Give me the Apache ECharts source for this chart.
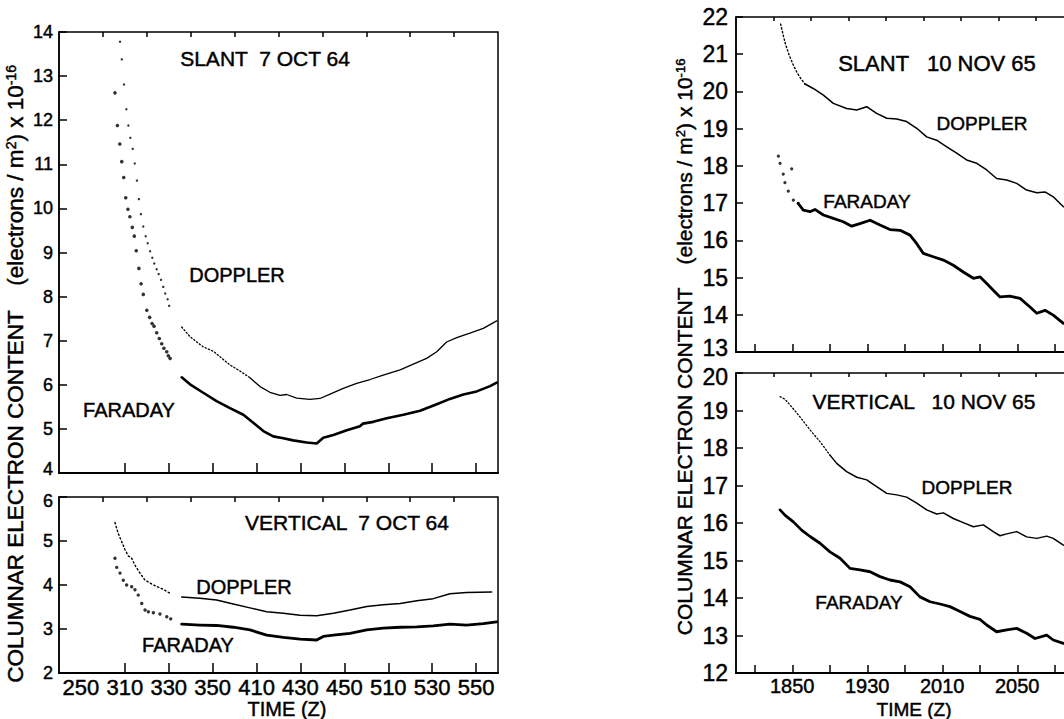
<!DOCTYPE html>
<html>
<head>
<meta charset="utf-8">
<title>Columnar electron content</title>
<script src="https://cdn.jsdelivr.net/npm/echarts@6/dist/echarts.min.js"></script>
<style>
  html, body { margin: 0; padding: 0; background: #fff; }
  #chart { width: 1064px; height: 719px; }
</style>
</head>
<body>
<div id="chart"></div>
<script>
// Time values are minutes after 0000 Z; values are electrons/m^2 x 10^-16.

// ---- 7 OCT 64, slant ----
const octSlantDopplerDots = [[187.8,13.78],[188.6,13.38],[189.6,12.81],[190.7,12.25],[191.6,11.88],[192.5,11.60],[193.6,11.35],[194.5,11.02],[195.5,10.63],[196.4,10.21],[197.3,9.87],[198.4,9.59],[199.5,9.37],[200.4,9.21],[201.5,9.03],[202.5,8.88],[203.4,8.75],[204.5,8.62],[205.4,8.51],[206.5,8.38],[207.5,8.22],[208.4,8.07],[209.5,7.94],[210.2,7.79]];
const octSlantDopplerFine = [[215.9,7.31],[219.7,7.09],[225.7,6.86],[230.3,6.76],[237.9,6.45],[242.5,6.31],[247.0,6.16]];
const octSlantDopplerLine = [[247.0,6.16],[251.6,5.96],[256.1,5.83],[260.7,5.76],[263.7,5.78],[268.3,5.70],[274.3,5.67],[278.9,5.69],[283.5,5.79],[289.5,5.92],[295.6,6.03],[301.7,6.12],[307.7,6.22],[315.4,6.34],[321.4,6.47],[327.5,6.60],[332.1,6.75],[336.6,6.97],[341.2,7.07],[347.2,7.17],[353.3,7.28],[359.4,7.45]];
const octSlantFaradayDots = [[185.5,12.62],[186.6,11.88],[187.7,11.46],[188.6,11.06],[189.5,10.70],[190.4,10.24],[191.4,9.98],[192.3,9.81],[193.4,9.57],[194.3,9.37],[195.2,9.04],[196.4,8.64],[197.4,8.29],[198.4,8.05],[200.0,7.69],[201.3,7.53],[202.4,7.39],[203.3,7.33],[204.5,7.18],[205.7,7.05],[206.8,6.93],[207.8,6.83],[209.1,6.75],[209.8,6.66],[210.6,6.60]];
const octSlantFaradayLine = [[215.9,6.17],[219.7,6.01],[225.7,5.82],[231.8,5.63],[237.9,5.47],[244.0,5.32],[248.5,5.14],[253.1,4.95],[257.6,4.83],[262.2,4.79],[266.7,4.74],[272.8,4.69],[277.4,4.67],[280.4,4.80],[285.0,4.86],[291.1,4.97],[297.1,5.06],[298.5,5.12],[303.2,5.16],[309.3,5.24],[316.9,5.32],[324.5,5.41],[332.1,5.56],[338.1,5.68],[344.2,5.78],[350.3,5.85],[356.4,5.97],[359.4,6.05]];

// ---- 7 OCT 64, vertical ----
const octVertDopplerFine = [[185.5,5.42],[187.0,5.17],[188.6,4.98],[190.1,4.80],[191.6,4.66],[193.1,4.61],[194.6,4.45],[196.9,4.27],[199.2,4.11],[203.0,4.00],[207.5,3.90],[210.6,3.81]];
const octVertDopplerLine = [[215.9,3.73],[224.2,3.70],[231.8,3.66],[239.4,3.57],[247.0,3.48],[254.6,3.39],[262.2,3.36],[269.8,3.31],[277.4,3.30],[285.0,3.36],[292.6,3.43],[300.2,3.51],[307.7,3.55],[315.4,3.58],[323.0,3.64],[330.5,3.69],[338.1,3.80],[345.7,3.83],[357.1,3.84]];
const octVertFaradayDots = [[185.5,4.61],[186.3,4.40],[187.8,4.27],[189.3,4.11],[190.8,4.00],[193.1,3.96],[194.6,3.89],[196.1,3.77],[197.7,3.58],[199.2,3.43],[200.7,3.39],[203.0,3.37],[206.0,3.34],[209.1,3.28],[210.9,3.23]];
const octVertFaradayLine = [[215.9,3.11],[224.2,3.09],[231.8,3.08],[239.4,3.04],[247.0,2.98],[254.6,2.86],[262.2,2.81],[269.8,2.77],[277.4,2.75],[280.4,2.83],[285.0,2.86],[292.6,2.90],[300.2,2.98],[307.7,3.02],[315.4,3.04],[323.0,3.05],[330.5,3.07],[338.1,3.11],[345.7,3.09],[353.3,3.12],[359.4,3.16]];

// ---- 10 NOV 65, slant ----
const novSlantDopplerFine = [[1123.8,21.81],[1125.0,21.55],[1126.5,21.25],[1128.4,20.97],[1130.5,20.72],[1132.4,20.52],[1134.5,20.35],[1136.8,20.20]];
const novSlantDopplerLine = [[1136.8,20.20],[1141.2,20.08],[1146.6,19.90],[1151.9,19.68],[1159.0,19.54],[1164.4,19.50],[1169.7,19.59],[1175.0,19.41],[1180.4,19.28],[1185.7,19.26],[1191.0,19.19],[1196.4,19.01],[1201.7,18.78],[1207.0,18.69],[1212.4,18.51],[1217.7,18.34],[1223.0,18.16],[1228.4,18.07],[1233.7,17.89],[1239.0,17.66],[1244.4,17.62],[1249.7,17.53],[1255.0,17.35],[1260.4,17.28],[1264.8,17.30],[1269.2,17.17],[1274.6,16.90]];
const novSlantFaradayDots = [[1122.6,18.26],[1123.5,18.07],[1129.7,17.92],[1125.2,17.78],[1126.1,17.55],[1127.9,17.32],[1130.6,17.08],[1133.2,16.99]];
const novSlantFaradayLine = [[1133.2,16.99],[1135.9,16.81],[1139.5,16.77],[1142.1,16.83],[1146.6,16.68],[1151.9,16.59],[1157.2,16.50],[1161.7,16.38],[1166.1,16.45],[1171.5,16.54],[1176.8,16.41],[1182.1,16.29],[1187.5,16.27],[1192.8,16.14],[1196.4,15.91],[1199.9,15.65],[1205.2,15.56],[1210.6,15.47],[1215.9,15.33],[1221.2,15.15],[1226.6,14.98],[1230.1,15.02],[1233.7,14.84],[1237.2,14.66],[1240.8,14.48],[1246.1,14.50],[1251.5,14.44],[1256.8,14.21],[1260.4,14.04],[1264.8,14.12],[1269.2,13.99],[1274.6,13.77]];

// ---- 10 NOV 65, vertical ----
const novVertDopplerFine = [[1123.5,19.37],[1126.1,19.30],[1128.8,19.15],[1134.1,18.83],[1139.5,18.48],[1144.8,18.17],[1150.1,17.81]];
const novVertDopplerLine = [[1150.1,17.81],[1153.7,17.59],[1159.0,17.37],[1164.4,17.22],[1169.7,17.15],[1175.0,16.97],[1180.4,16.79],[1185.7,16.75],[1191.0,16.69],[1196.4,16.53],[1201.7,16.35],[1207.0,16.24],[1210.6,16.27],[1215.9,16.12],[1221.2,16.01],[1226.6,15.90],[1231.9,15.95],[1237.2,15.77],[1240.8,15.66],[1244.4,15.71],[1249.7,15.77],[1255.0,15.63],[1260.4,15.59],[1265.7,15.65],[1269.2,15.59],[1274.6,15.41]];
const novVertFaradayLine = [[1123.5,16.35],[1126.1,16.21],[1130.6,16.03],[1135.0,15.81],[1139.5,15.64],[1144.8,15.46],[1150.1,15.23],[1155.5,15.06],[1160.8,14.79],[1166.1,14.75],[1171.5,14.70],[1176.8,14.57],[1182.1,14.48],[1187.5,14.43],[1192.8,14.30],[1198.1,14.03],[1203.5,13.90],[1208.8,13.84],[1214.1,13.77],[1219.5,13.64],[1224.8,13.51],[1230.1,13.43],[1233.7,13.28],[1239.0,13.10],[1244.4,13.15],[1249.7,13.19],[1255.0,13.06],[1259.5,12.92],[1265.7,13.01],[1269.2,12.88],[1274.6,12.79]];

// ---- axis ticks (minutes after 0000 Z) ----
const octLongTicks  = [190, 210, 230, 250, 270, 290, 310, 330, 350];
const octShortTicks = [180, 200, 220, 240, 260, 280, 300, 320, 340];
const octLabelTicks = [170, 190, 210, 230, 250, 270, 290, 310, 330, 350];
const novLongTicks  = [1110, 1130, 1150, 1170, 1190, 1210, 1230, 1250, 1270, 1290];
const novShortTicks = [1120, 1140, 1160, 1180, 1200, 1220, 1240, 1260, 1280];
const novLabelTicks = [1130, 1170, 1210, 1250];

const FONT = '"Liberation Sans", Arial, Helvetica, sans-serif';
const INK = '#000';
const PEN = 0.45; // extra stroke that gives the lettering its pen weight

// 2:50 -> "250", 18:50 -> "1850"
function clockLabel(v) {
  const h = Math.floor(v / 60);
  const m = Math.round(v - h * 60);
  return String(h * 100 + m);
}

// The right-hand panels run past the right edge of the page on purpose.
const grids = [
  { left: 59,  top: 32,  width: 439, height: 441 },
  { left: 59,  top: 497, width: 439, height: 176 },
  { left: 736, top: 17,  width: 375, height: 335 },
  { left: 736, top: 373, width: 375, height: 300 }
].map(g => Object.assign({
  show: true, borderColor: INK, borderWidth: 1.5, backgroundColor: 'transparent',
  containLabel: false, outerBoundsMode: 'none'
}, g));

function timeAxes(gridIndex, min, max, longTicks, shortTicks, labels, labelSize, longLen, shortLen) {
  return [
    {
      type: 'value', gridIndex, min, max,
      axisLine: { show: true, lineStyle: { color: INK, width: 2 } },
      axisTick: { show: true, inside: true, length: longLen, customValues: longTicks, lineStyle: { color: INK, width: 1.5 } },
      axisLabel: labels ? {
        show: true, customValues: labels, formatter: clockLabel, margin: 3,
        color: INK, fontFamily: FONT, fontSize: labelSize,
        textBorderColor: INK, textBorderWidth: PEN
      } : { show: false },
      splitLine: { show: false }
    },
    {
      type: 'value', gridIndex, min, max,
      axisLine: { show: false },
      axisTick: { show: true, inside: true, length: shortLen, customValues: shortTicks, lineStyle: { color: INK, width: 1.5 } },
      axisLabel: { show: false },
      splitLine: { show: false }
    }
  ];
}

// nudge: value -> 'up' or 'down' for labels that sit where two panels meet
function valueAxis(gridIndex, min, max, labelSize, tickLen, margin, nudge) {
  return {
    type: 'value', gridIndex, min, max, interval: 1,
    axisLine: { show: true, lineStyle: { color: INK, width: 1.5 } },
    axisTick: { show: true, inside: true, length: tickLen, lineStyle: { color: INK, width: 1.5 } },
    axisLabel: {
      color: INK, fontFamily: FONT, fontSize: labelSize, margin,
      textBorderColor: INK, textBorderWidth: PEN,
      formatter: v => (nudge && nudge[v]) ? '{' + nudge[v] + '|' + v + '}' : String(v),
      rich: {
        up:   { fontFamily: FONT, fontSize: labelSize, color: INK, textBorderColor: INK, textBorderWidth: PEN, padding: [0, 0, 8, 0] },
        down: { fontFamily: FONT, fontSize: labelSize, color: INK, textBorderColor: INK, textBorderWidth: PEN, padding: [8, 0, 0, 0] }
      }
    },
    splitLine: { show: false }
  };
}

const xAxes = [].concat(
  timeAxes(0, 160, 360, octLongTicks, octShortTicks, null, 22, 10, 5),
  timeAxes(1, 160, 360, octLongTicks, octShortTicks, octLabelTicks, 22, 10, 5),
  timeAxes(2, 1100, 1300, novLongTicks, novShortTicks, null, 20, 8, 4),
  timeAxes(3, 1100, 1300, novLongTicks, novShortTicks, novLabelTicks, 20, 8, 4)
);

const yAxes = [
  valueAxis(0, 4, 14, 18, 8, 6, { 4: 'up' }),
  valueAxis(1, 2, 6, 18, 8, 6, { 6: 'down' }),
  valueAxis(2, 13, 22, 23, 7, 8, { 13: 'up' }),
  valueAxis(3, 12, 20, 23, 7, 8, { 20: 'down' })
];

// x axis index of the labelled axis for each grid
const mainX = [0, 2, 4, 6];

function dots(grid, data, size) {
  return {
    type: 'scatter', xAxisIndex: mainX[grid], yAxisIndex: grid, data,
    symbol: 'circle', symbolSize: size, itemStyle: { color: INK }, silent: true
  };
}
function trace(grid, data, width, dash) {
  return {
    type: 'line', xAxisIndex: mainX[grid], yAxisIndex: grid, data,
    showSymbol: false, smooth: false, silent: true,
    lineStyle: { color: INK, width, type: dash || 'solid', cap: 'round', join: 'round' }
  };
}

const series = [
  dots(0, octSlantDopplerDots, 2.4),
  trace(0, octSlantDopplerFine, 1.3, [1.3, 2.2]),
  trace(0, octSlantDopplerLine, 1.3),
  dots(0, octSlantFaradayDots, 3.6),
  trace(0, octSlantFaradayLine, 2.6),

  trace(1, octVertDopplerFine, 1.4, [1.4, 2.6]),
  trace(1, octVertDopplerLine, 1.5),
  dots(1, octVertFaradayDots, 3.4),
  trace(1, octVertFaradayLine, 2.8),

  trace(2, novSlantDopplerFine, 1.4, [1.4, 2.4]),
  trace(2, novSlantDopplerLine, 1.5),
  dots(2, novSlantFaradayDots, 3.2),
  trace(2, novSlantFaradayLine, 2.8),

  trace(3, novVertDopplerFine, 1.3, [1.3, 2.2]),
  trace(3, novVertDopplerLine, 1.5),
  trace(3, novVertFaradayLine, 2.8)
];

function label(text, x, y, size) {
  return {
    type: 'text', x, y, silent: true,
    style: {
      text, fill: INK, stroke: INK, lineWidth: PEN,
      font: size + 'px ' + FONT, align: 'center', verticalAlign: 'middle'
    }
  };
}
function yTitle(x, y, size) {
  return {
    type: 'text', x, y, rotation: Math.PI / 2, silent: true,
    style: {
      text: 'COLUMNAR ELECTRON CONTENT    (electrons / m{sup|2}) x 10{sup|-16}',
      fill: INK, stroke: INK, lineWidth: PEN,
      fontFamily: FONT, fontSize: size, align: 'center', verticalAlign: 'middle',
      rich: { sup: { fontFamily: FONT, fontSize: Math.round(size * 0.6), verticalAlign: 'top', fill: INK } }
    }
  };
}

const graphics = [
  label('SLANT  7 OCT 64', 265, 58, 21),
  label('DOPPLER', 237, 275, 20),
  label('FARADAY', 129, 410, 20),
  label('VERTICAL  7 OCT 64', 347, 522, 21),
  label('DOPPLER', 244, 587, 20),
  label('FARADAY', 188, 645, 20),
  label('TIME (Z)', 287, 709, 20),

  label('SLANT   10 NOV 65', 937, 63, 22),
  label('DOPPLER', 982, 123, 19),
  label('FARADAY', 867, 201, 19),
  label('VERTICAL   10 NOV 65', 924, 401, 21),
  label('DOPPLER', 967, 487, 19),
  label('FARADAY', 859, 602, 19),
  label('TIME (Z)', 914, 709, 19),

  yTitle(15, 374, 22.5),
  yTitle(684, 347, 21)
];

const chart = echarts.init(document.getElementById('chart'), null, { renderer: 'svg' });
chart.setOption({
  animation: false,
  backgroundColor: '#fff',
  grid: grids,
  xAxis: xAxes,
  yAxis: yAxes,
  series,
  graphic: graphics
});
</script>
</body>
</html>
